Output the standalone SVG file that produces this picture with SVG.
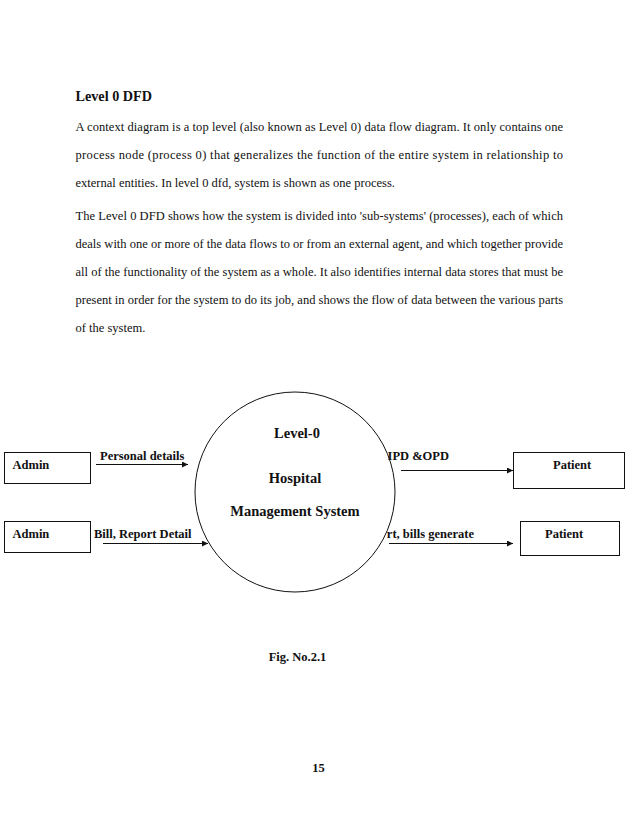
<svg xmlns="http://www.w3.org/2000/svg" width="638" height="826" viewBox="0 0 638 826">
<defs>
<style>
.body{font-family:"Liberation Serif","Times New Roman",serif;font-size:12.5px;fill:#111}
.b{font-family:"Liberation Serif","Times New Roman",serif;font-weight:bold;fill:#111}
.lbl{font-size:12.5px}
.box{fill:#fff;stroke:#111;stroke-width:1}
.flow{stroke:#111;stroke-width:1;fill:none;marker-end:url(#arr)}
</style>
<marker id="arr" viewBox="0 0 10 10" refX="10" refY="5" markerWidth="8" markerHeight="6" markerUnits="userSpaceOnUse" orient="auto">
<path d="M0,0 L10,5 L0,10 z" fill="#111"/>
</marker>
</defs>
<rect width="638" height="826" fill="#fff"/>
<g id="page-text">
<text class="b" x="75.5" y="101" font-size="14.2">Level 0 DFD</text>
<text class="body" x="75.5" y="131" textLength="487.5" lengthAdjust="spacing">A context diagram is a top level (also known as Level 0) data flow diagram. It only contains one</text>
<text class="body" x="75.5" y="159" textLength="487.5" lengthAdjust="spacing">process node (process 0) that generalizes the function of the entire system in relationship to</text>
<text class="body" x="75.5" y="187">external entities. In level 0 dfd, system is shown as one process.</text>
<text class="body" x="75.5" y="220" textLength="487.5" lengthAdjust="spacing">The Level 0 DFD shows how the system is divided into 'sub-systems' (processes), each of which</text>
<text class="body" x="75.5" y="248" textLength="487.5" lengthAdjust="spacing">deals with one or more of the data flows to or from an external agent, and which together provide</text>
<text class="body" x="75.5" y="276" textLength="487.5" lengthAdjust="spacing">all of the functionality of the system as a whole. It also identifies internal data stores that must be</text>
<text class="body" x="75.5" y="304" textLength="487.5" lengthAdjust="spacing">present in order for the system to do its job, and shows the flow of data between the various parts</text>
<text class="body" x="75.5" y="332">of the system.</text>
<text class="b lbl" x="297.5" y="661" text-anchor="middle">Fig. No.2.1</text>
<text class="b lbl" x="318.5" y="772" text-anchor="middle">15</text>
</g>
<g id="connectors">
<line class="flow" x1="96" y1="464.5" x2="188" y2="464.5"/>
<text class="b lbl" x="100" y="460">Personal details</text>
<line class="flow" x1="103" y1="543.5" x2="208" y2="543.5"/>
<text class="b lbl" x="94" y="538">Bill, Report Detail</text>
<line class="flow" x1="401" y1="470.5" x2="513" y2="470.5"/>
<text class="b lbl" x="449" y="460" text-anchor="end">IPD &amp;OPD</text>
<line class="flow" x1="389" y1="543.5" x2="513" y2="543.5"/>
<text class="b lbl" x="474" y="538" text-anchor="end">rt, bills generate</text>
</g>
<g id="admin-1">
<rect class="box" x="4.5" y="452.5" width="86" height="31"/>
<text class="b lbl" x="12.5" y="469">Admin</text>
</g>
<g id="admin-2">
<rect class="box" x="4.5" y="521.5" width="86" height="31"/>
<text class="b lbl" x="12.5" y="538">Admin</text>
</g>
<g id="process-0">
<circle cx="295" cy="492" r="100" fill="none" stroke="#111" stroke-width="1"/>
<text class="b" font-size="14.5" x="297" y="438" text-anchor="middle">Level-0</text>
<text class="b" font-size="14.5" x="295" y="483" text-anchor="middle">Hospital</text>
<text class="b" font-size="14.5" x="295" y="516" text-anchor="middle">Management System</text>
</g>
<g id="patient-1">
<rect class="box" x="513.5" y="452.5" width="111" height="36"/>
<text class="b lbl" x="553" y="469">Patient</text>
</g>
<g id="patient-2">
<rect class="box" x="520.5" y="521.5" width="99" height="34"/>
<text class="b lbl" x="545" y="538">Patient</text>
</g>
</svg>
